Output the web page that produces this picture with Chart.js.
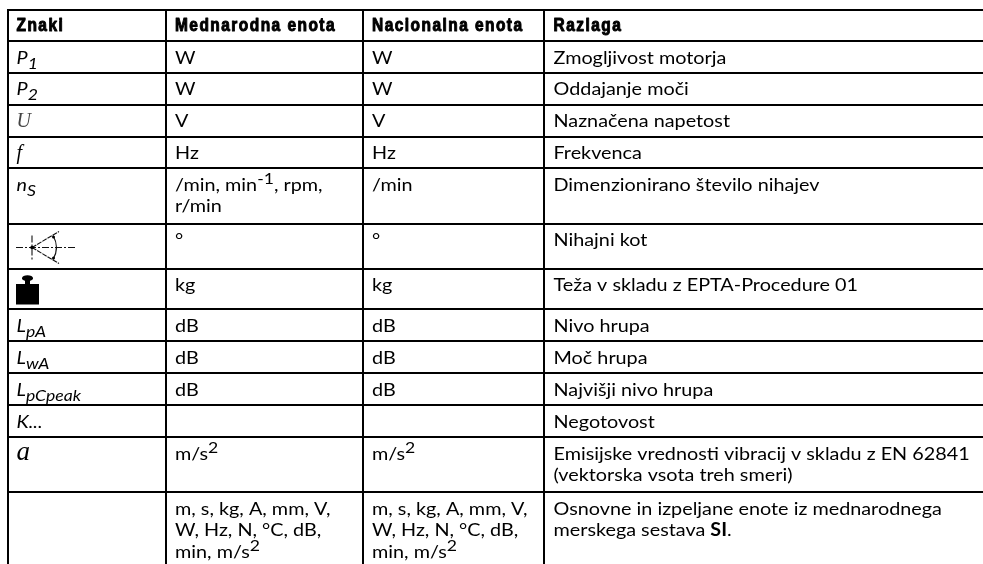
<!DOCTYPE html>
<html>
<head>
<meta charset="utf-8">
<title>Znaki</title>
<script src="https://cdn.jsdelivr.net/npm/chart.js@4"></script>
<style>
    html, body { margin: 0; padding: 0; background: #fff; }
    canvas { display: block; }
</style>
</head>
<body>
<canvas id="tableChart" width="983" height="564"></canvas>
<script>
// Besedilo tabele: _{} podpisano, ^{} nadpisano, *{} krepko
const headers = ['Znaki', 'Mednarodna enota', 'Nacionalna enota', 'Razlaga'];
const symbols = ['P_{1}', 'P_{2}', 'U', 'f', 'n_{S}', '', '', 'L_{pA}', 'L_{wA}', 'L_{pCpeak}', 'K...', 'a', ''];
const intlUnits = ['W', 'W', 'V', 'Hz', '/min, min^{-1}, rpm,\nr/min', '°', 'kg', 'dB', 'dB', 'dB', '', 'm/s^{2}',
    'm, s, kg, A, mm, V,\nW, Hz, N, °C, dB,\nmin, m/s^{2}'];
const natUnits = ['W', 'W', 'V', 'Hz', '/min', '°', 'kg', 'dB', 'dB', 'dB', '', 'm/s^{2}',
    'm, s, kg, A, mm, V,\nW, Hz, N, °C, dB,\nmin, m/s^{2}'];
const explanations = ['Zmogljivost motorja', 'Oddajanje moči', 'Naznačena napetost', 'Frekvenca',
    'Dimenzionirano število nihajev', 'Nihajni kot', 'Teža v skladu z EPTA-Procedure 01', 'Nivo hrupa', 'Moč hrupa',
    'Najvišji nivo hrupa', 'Negotovost', 'Emisijske vrednosti vibracij v skladu z EN 62841\n(vektorska vsota treh smeri)',
    'Osnovne in izpeljane enote iz mednarodnega\nmerskega sestava *{SI}.'];

// Robovi stolpcev in vrstic (vrednosti na oseh)
const columnEdges = [7.5, 165.5, 362.5, 544];
const rowEdges = [9.5, 41, 72.5, 104.5, 136.5, 168, 223.5, 268.5, 309, 341, 373, 405, 437, 492];

const columns = [symbols, intlUnits, natUnits, explanations];
const bodyFont = 'Lato';
const bodySize = 18;
const smallSize = 16;
const bodyStretch = 1.1;
const lineHeight = 21.7;
const serifSymbols = { U: 20, f: 20, a: 27 };

// Razdeli besedilo na dele z oznakami
function parseRuns(text) {
    const runs = [];
    const re = /([_^*])\{([^}]*)\}|([^_^*]+)/g;
    let m;
    while ((m = re.exec(text)) !== null) {
        if (m[1]) {
            runs.push({ text: m[2], kind: m[1] });
        } else {
            runs.push({ text: m[3], kind: '' });
        }
    }
    return runs;
}

// Nariše eno vrstico besedila
function drawLine(ctx, line, x, y, italic) {
    const style = italic ? 'italic ' : '';
    ctx.save();
    ctx.translate(x, y);
    ctx.scale(bodyStretch, 1);
    let cursor = 0;
    parseRuns(line).forEach(run => {
        let size = bodySize;
        let shift = 0;
        let weight = '';
        if (run.kind === '_') { size = smallSize; shift = 5; }
        if (run.kind === '^') { size = smallSize; shift = -7; }
        if (run.kind === '*') { weight = 'bold '; }
        ctx.font = style + weight + size + 'px ' + bodyFont;
        ctx.fillText(run.text, cursor, shift);
        cursor += ctx.measureText(run.text).width;
    });
    ctx.restore();
}

// Simbol nihajnega kota
function drawAngleIcon(ctx, x, y) {
    const cx = x + 24.5;
    const cy = y + 24;
    ctx.save();
    ctx.strokeStyle = '#111';
    ctx.lineWidth = 1.1;
    ctx.setLineDash([7, 2, 2, 2]);
    ctx.beginPath();
    ctx.moveTo(cx - 16, cy);
    ctx.lineTo(cx + 43, cy);
    ctx.moveTo(cx, cy - 12);
    ctx.lineTo(cx, cy + 13);
    ctx.stroke();
    ctx.setLineDash([5, 1]);
    ctx.beginPath();
    ctx.moveTo(cx, cy);
    ctx.lineTo(cx + 27, cy - 16);
    ctx.moveTo(cx, cy);
    ctx.lineTo(cx + 27, cy + 16);
    ctx.stroke();
    ctx.setLineDash([]);
    ctx.beginPath();
    ctx.moveTo(cx + 21, cy - 12);
    ctx.quadraticCurveTo(cx + 28, cy, cx + 21, cy + 12);
    ctx.stroke();
    ctx.fillStyle = '#000';
    [[0, 0, 1.8], [21.5, -10.5, 1.5], [21.5, 10.5, 1.5]].forEach(d => {
        ctx.beginPath();
        ctx.arc(cx + d[0], cy + d[1], d[2], 0, Math.PI * 2);
        ctx.fill();
    });
    ctx.restore();
}

// Simbol uteži
function drawWeightIcon(ctx, x, y) {
    ctx.save();
    ctx.fillStyle = '#000';
    ctx.beginPath();
    ctx.ellipse(x + 20, y + 9.7, 5.5, 3, 0, 0, Math.PI * 2);
    ctx.fill();
    ctx.fillRect(x + 17.5, y + 11, 5, 6);
    ctx.fillRect(x + 8.5, y + 15.5, 23, 20.5);
    ctx.restore();
}

// Vtičnik, ki izpiše besedilo celic na položaje točk
const tableTextPlugin = {
    id: 'tableText',
    afterDatasetsDraw(chart) {
        const ctx = chart.ctx;
        ctx.save();
        ctx.fillStyle = '#000';
        ctx.textBaseline = 'alphabetic';

        columns.forEach((cells, c) => {
            const points = chart.getDatasetMeta(c).data;
            const padX = c === 0 ? 9 : 9.5;

            // Glava
            ctx.save();
            ctx.translate(points[0].x + padX, points[0].y + 21.5);
            ctx.scale(0.86, 1);
            ctx.font = 'bold 18px "Liberation Sans"';
            ctx.letterSpacing = '1.7px';
            ctx.lineWidth = 1;
            ctx.lineJoin = 'round';
            ctx.strokeStyle = '#000';
            ctx.strokeText(headers[c], 0, 0);
            ctx.fillText(headers[c], 0, 0);
            ctx.restore();

            cells.forEach((cell, r) => {
                const p = points[r + 1];
                if (c === 0 && serifSymbols[cell]) {
                    ctx.save();
                    ctx.font = 'italic ' + serifSymbols[cell] + 'px "Liberation Serif"';
                    if (cell === 'U') ctx.fillStyle = '#444';
                    ctx.fillText(cell, p.x + padX, p.y + 22.5);
                    ctx.restore();
                    return;
                }
                cell.split('\n').forEach((line, i) => {
                    drawLine(ctx, line, p.x + padX, p.y + 22.5 + i * lineHeight, c === 0);
                });
            });

            if (c === 0) {
                drawAngleIcon(ctx, points[6].x, points[6].y);
                drawWeightIcon(ctx, points[7].x, points[7].y);
            }
        });
        ctx.restore();
    }
};

new Chart(document.getElementById('tableChart'), {
    type: 'scatter',
    data: {
        datasets: columns.map((cells, c) => ({
            label: headers[c],
            data: rowEdges.map(y => ({ x: columnEdges[c], y: y })),
            pointRadius: 0,
            pointHoverRadius: 0
        }))
    },
    options: {
        responsive: false,
        animation: false,
        events: [],
        layout: { padding: { left: 7, top: 9, right: 0, bottom: 0 } },
        plugins: { legend: { display: false }, tooltip: { enabled: false } },
        scales: {
            x: {
                type: 'linear',
                min: 7,
                max: 983,
                afterBuildTicks: axis => { axis.ticks = columnEdges.map(v => ({ value: v })); },
                afterFit: axis => { axis.height = 0; },
                ticks: { display: false, autoSkip: false },
                border: { display: false },
                grid: { color: '#000', lineWidth: 2, drawTicks: false }
            },
            y: {
                type: 'linear',
                reverse: true,
                min: 9,
                max: 564,
                afterBuildTicks: axis => { axis.ticks = rowEdges.map(v => ({ value: v })); },
                afterFit: axis => { axis.width = 0; },
                ticks: { display: false, autoSkip: false },
                border: { display: false },
                grid: { color: '#000', lineWidth: 2, drawTicks: false }
            }
        }
    },
    plugins: [tableTextPlugin]
});
</script>
</body>
</html>
